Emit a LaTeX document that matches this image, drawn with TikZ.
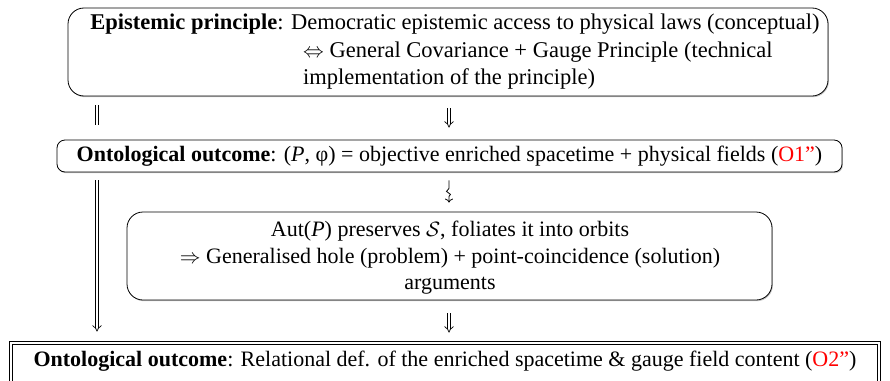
\documentclass[tikz,border=0pt]{standalone}
\usepackage{fontspec}
\setmainfont{Liberation Serif}
\usetikzlibrary{arrows.meta,shadows}
\begin{document}
\begin{tikzpicture}[x=1pt,y=-1pt,
  every node/.style={font=\fontsize{22}{26}\selectfont, inner sep=0pt},
  topfont/.style={font=\fontsize{22.5}{27}\selectfont},
  midfont/.style={font=\fontsize{22}{26.5}\selectfont},
  rbox/.style={draw, rounded corners=16pt, line width=0.8pt, fill=white,
    drop shadow={shadow xshift=0.9pt, shadow yshift=-1.2pt, opacity=0.45}},
  eqline/.style={double, double distance=2.6pt, line width=0.7pt},
  impl/.style={double, double distance=2.6pt, line width=0.7pt, -{Implies}},
  squig/.style={line width=0.8pt, -{To[length=4pt,width=8pt]}}
]
\useasboundingbox (0,0) rectangle (890,380);
\clip (0,0) rectangle (890,380);
\coordinate (lx) at (97,0);
\coordinate (mx) at (449,0);

% top box
\node[rbox, minimum width=760pt, minimum height=88pt] (epi) at (448,52) {};
\node[topfont, anchor=base] (epiA) at (455,29) {\textbf{Epistemic principle}: Democratic epistemic access to physical laws (conceptual)};
\node[topfont, anchor=base west] (epiB) at (303,57) {$\Leftrightarrow$ General Covariance + Gauge Principle (technical};
\node[topfont, anchor=base west] (epiC) at (303,84) {implementation of the principle)};

% first ontological outcome
\node[rbox, rounded corners=8pt, minimum width=785pt, minimum height=32pt] (onto1) at (449.5,156)
  {\textbf{Ontological outcome}: (\textit{P}, φ) = objective enriched spacetime + physical fields (\textcolor{red}{O1”})};

% middle box
\node[rbox, midfont, minimum width=645pt, minimum height=88pt] (aut) at (449.5,256) {};
\node[midfont, align=center] (autt) at (450,258)
  {Aut(\textit{P}) preserves $\mathcal{S}$, foliates it into orbits\\
   $\Rightarrow$ Generalised hole (problem) + point-coincidence (solution)\\
   arguments};

% bottom box
\node[draw, double, double distance=2pt, line width=0.8pt, minimum width=868pt, minimum height=44pt] (onto2) at (445,365) {};
\node (onto2t) at (445,361)
  {\textbf{Ontological outcome}: Relational def. of the enriched spacetime \& gauge field content (\textcolor{red}{O2”})};

% connectors
\draw[eqline, shorten <=9pt, shorten >=15pt] (epi.south -| lx) -- (onto1.north -| lx);
\draw[impl, shorten <=12pt, shorten >=12pt] (epi.south -| mx) -- (onto1.north -| mx);
\draw[impl, shorten <=8pt, shorten >=11pt] (onto1.south -| lx) -- (onto2.north -| lx);
\draw[squig] ([yshift=-8pt]onto1.south -| mx) -- ++(0,8) -- ++(-2.5,3) -- ++(4,3) -- ++(-1.5,2) -- (aut.north -| mx) [shorten >=9pt];
\draw[impl, shorten <=13pt, shorten >=10pt] (aut.south -| mx) -- (onto2.north -| mx);
\end{tikzpicture}
\end{document}
